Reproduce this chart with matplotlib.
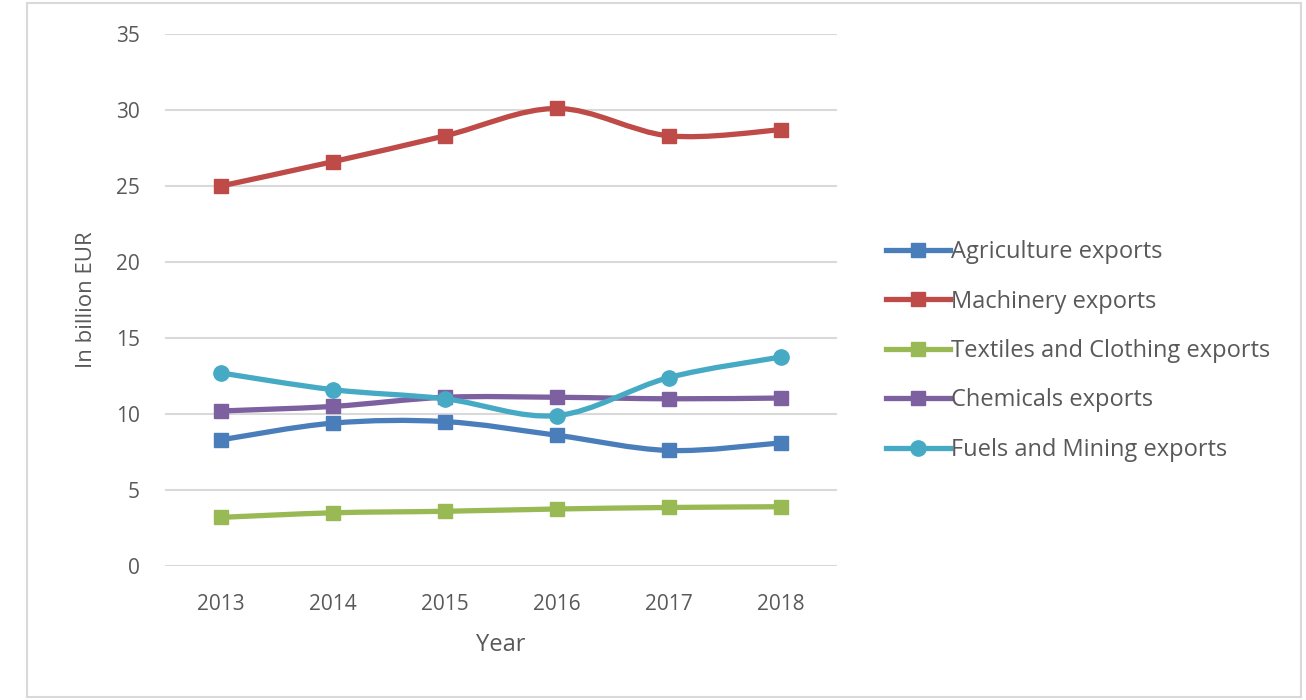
import matplotlib
matplotlib.use("Agg")
import matplotlib.pyplot as plt
from matplotlib.path import Path
from matplotlib.patches import PathPatch, Rectangle
from matplotlib.lines import Line2D
import numpy as np

plt.rcParams['font.family'] = ['Open Sans', 'DejaVu Sans']

years = [2013, 2014, 2015, 2016, 2017, 2018]
agriculture = [8.3, 9.4, 9.5, 8.6, 7.6, 8.1]
machinery = [25.0, 26.6, 28.3, 30.1, 28.3, 28.7]
textiles = [3.2, 3.5, 3.6, 3.75, 3.85, 3.9]
chemicals = [10.2, 10.5, 11.1, 11.1, 11.0, 11.05]
fuels = [12.7, 11.6, 11.0, 9.9, 12.4, 13.75]

series = [
    ("Agriculture exports", agriculture, "#4A7EBB", "s"),
    ("Machinery exports", machinery, "#BE4B48", "s"),
    ("Textiles and Clothing exports", textiles, "#98B954", "s"),
    ("Chemicals exports", chemicals, "#7D60A0", "s"),
    ("Fuels and Mining exports", fuels, "#46AAC5", "o"),
]

yticks = [0, 5, 10, 15, 20, 25, 30, 35]
text_color = "#595959"

fig = plt.figure(figsize=(13.06, 7.0), dpi=100)
W, H = 1306, 700

# outer frame
fig.patches.append(Rectangle((27 / W, 1 - 697 / H), (1301 - 27) / W, (697 - 3) / H,
                             transform=fig.transFigure, fill=False,
                             edgecolor="#D9D9D9", linewidth=1.5))

ax = fig.add_axes([165 / W, 1 - 566 / H, (837 - 165) / W, (566 - 34) / H])
ax.set_xlim(2012.5, 2018.5)
ax.set_ylim(0, 35)
ax.set_yticks(yticks)
ax.set_xticks(years)
ax.yaxis.grid(True, color="#D9D9D9", linewidth=1.5)
ax.set_axisbelow(True)
for s in ax.spines.values():
    s.set_visible(False)
ax.tick_params(axis="both", length=0, labelsize=15, colors=text_color)
ax.tick_params(axis="x", pad=20)
ax.tick_params(axis="y", pad=18)
ax.set_xlabel("Year", fontsize=17, color=text_color, labelpad=13)
ax.set_ylabel("In billion EUR", fontsize=16, color=text_color, labelpad=14)


def smooth_path(xs, ys):
    pts = np.column_stack([xs, ys]).astype(float)
    n = len(pts)
    verts = [pts[0]]
    codes = [Path.MOVETO]
    t = 1.0 / 6.0
    for i in range(n - 1):
        p0 = pts[i - 1] if i > 0 else pts[i]
        p1 = pts[i]
        p2 = pts[i + 1]
        p3 = pts[i + 2] if i + 2 < n else pts[i + 1]
        c1 = p1 + (p2 - p0) * t
        c2 = p2 - (p3 - p1) * t
        verts += [c1, c2, p2]
        codes += [Path.CURVE4] * 3
    return Path(verts, codes)


handles = []
for name, vals, color, mk in series:
    patch = PathPatch(smooth_path(years, vals), facecolor="none", edgecolor=color,
                      linewidth=3.8, capstyle="round", joinstyle="round", zorder=3)
    ax.add_patch(patch)
    ax.plot(years, vals, linestyle="none", marker=mk, markersize=10 if mk == "s" else 11,
            color=color, zorder=4)
    handles.append(Line2D([0], [0], color=color, linewidth=3.8, marker=mk,
                          markersize=10 if mk == "s" else 11))

leg = fig.legend(handles, [s[0] for s in series], loc="center left",
                 bbox_to_anchor=(865 / W, 1 - 351 / H), frameon=False,
                 fontsize=17, labelcolor=text_color, handlelength=2.7,
                 handletextpad=0.05, labelspacing=1.08)

fig.savefig("out.png", dpi=100, facecolor="white")
